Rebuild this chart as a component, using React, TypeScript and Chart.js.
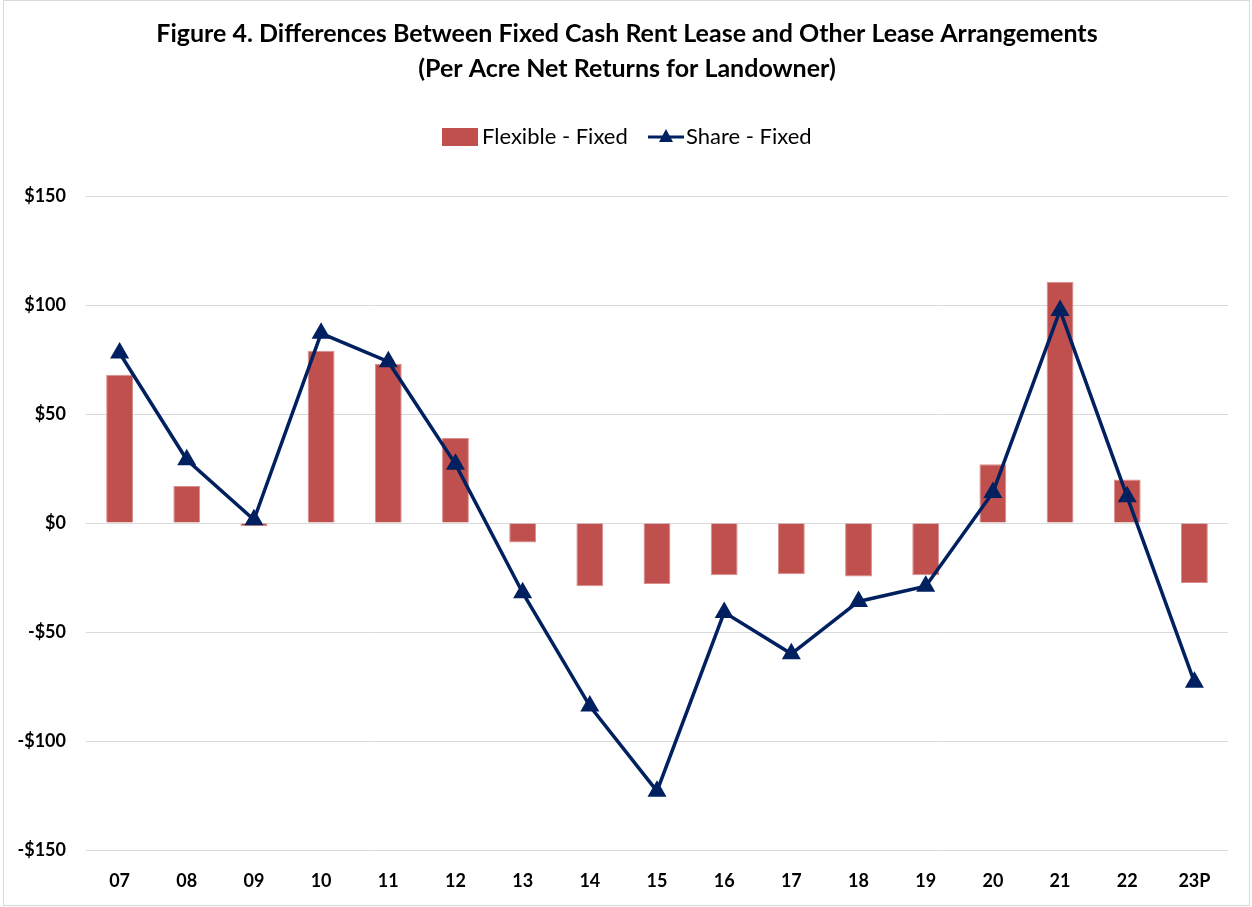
import React, { useEffect, useRef } from "react";
import { Chart, registerables } from "chart.js";

Chart.register(...registerables);

const categories = ["07", "08", "09", "10", "11", "12", "13", "14", "15", "16", "17", "18", "19", "20", "21", "22", "23P"];
const flexibleFixed = [68, 17, -1.5, 79, 73, 39, -9, -29, -28, -24, -23.5, -24.5, -24, 27, 110.5, 20, -27.5];
const shareFixed = [78, 29, 1.5, 87, 74, 27, -32, -84, -123, -41, -60, -36, -29, 14, 97.5, 12, -73];
const titleLines = [
  "Figure 4. Differences Between Fixed Cash Rent Lease and Other Lease Arrangements",
  "(Per Acre Net Returns for Landowner)",
];
const legendLabels = ["Flexible - Fixed", "Share - Fixed"];

const BAR_COLOR = "#C0504D";
const LINE_COLOR = "#002060";
const FONT = "Lato, 'Open Sans', 'Liberation Sans', sans-serif";

export default function App() {
  const ref = useRef<HTMLCanvasElement>(null);

  useEffect(() => {
    document.body.style.margin = "0";
    const canvas = ref.current!;
    const decor = {
      id: "decor",
      beforeDraw(chart: any) {
        const ctx = chart.ctx;
        ctx.save();
        ctx.fillStyle = "#ffffff";
        ctx.fillRect(0, 0, chart.width, chart.height);
        ctx.restore();
      },
      afterDraw(chart: any) {
        const ctx = chart.ctx;
        ctx.save();
        // border
        ctx.strokeStyle = "#d9d9d9";
        ctx.lineWidth = 1;
        ctx.strokeRect(3.5, 0.5, 1246, 905);
        // title
        ctx.fillStyle = "#000000";
        ctx.textAlign = "center";
        ctx.textBaseline = "middle";
        ctx.font = `bold 25px ${FONT}`;
        ctx.fillText(titleLines[0], 627, 34);
        ctx.fillText(titleLines[1], 627, 69);
        // legend
        ctx.font = `22px ${FONT}`;
        ctx.textAlign = "left";
        const ly = 137;
        ctx.fillStyle = BAR_COLOR;
        ctx.fillRect(442, ly - 9, 36, 18);
        ctx.fillStyle = "#000000";
        ctx.fillText(legendLabels[0], 482, ly);
        ctx.strokeStyle = LINE_COLOR;
        ctx.lineWidth = 3;
        ctx.beginPath();
        ctx.moveTo(648, ly);
        ctx.lineTo(684, ly);
        ctx.stroke();
        ctx.fillStyle = LINE_COLOR;
        ctx.beginPath();
        ctx.moveTo(666, ly - 8);
        ctx.lineTo(673, ly + 5);
        ctx.lineTo(659, ly + 5);
        ctx.closePath();
        ctx.fill();
        ctx.fillStyle = "#000000";
        ctx.fillText(legendLabels[1], 686, ly);
        ctx.restore();
      },
    };

    const chart = new Chart(canvas, {
      data: {
        labels: categories,
        datasets: [
          {
            type: "line",
            label: legendLabels[1],
            data: shareFixed,
            borderColor: LINE_COLOR,
            backgroundColor: LINE_COLOR,
            borderWidth: 3.5,
            pointStyle: "triangle",
            pointRadius: 7.5,
            pointHoverRadius: 7.5,
            pointBackgroundColor: LINE_COLOR,
            pointBorderColor: LINE_COLOR,
            tension: 0,
            order: 0,
          },
          {
            type: "bar",
            label: legendLabels[0],
            data: flexibleFixed,
            backgroundColor: BAR_COLOR,
            borderColor: "#d98e8c",
            borderWidth: 1,
            barPercentage: 0.4,
            categoryPercentage: 1,
            order: 1,
          },
        ],
      } as any,
      options: {
        responsive: false,
        animation: false,
        layout: { padding: { top: 196, right: 24, bottom: 0, left: 0 } },
        plugins: {
          legend: { display: false },
          title: { display: false },
          tooltip: { enabled: false },
        },
        scales: {
          x: {
            grid: { display: false, drawTicks: false },
            border: { display: false },
            ticks: {
              color: "#000000",
              font: { family: FONT, size: 18, weight: "bold" },
              padding: 20,
            },
            afterFit(scale: any) {
              scale.height = 57;
            },
          },
          y: {
            min: -150,
            max: 150,
            grid: { color: "#d9d9d9", lineWidth: 1, drawTicks: false },
            border: { display: false },
            ticks: {
              stepSize: 50,
              color: "#000000",
              font: { family: FONT, size: 18, weight: "bold" },
              padding: 20,
              callback: (v: any) => (v < 0 ? `-$${Math.abs(v)}` : `$${v}`),
            },
            afterFit(scale: any) {
              scale.width = 86;
            },
          },
        },
      } as any,
      plugins: [decor],
    });
    return () => chart.destroy();
  }, []);

  return (
    <div style={{ position: "absolute", left: 0, top: 0, width: 1252, height: 907 }}>
      <canvas ref={ref} width={1252} height={907} style={{ display: "block" }} />
    </div>
  );
}
